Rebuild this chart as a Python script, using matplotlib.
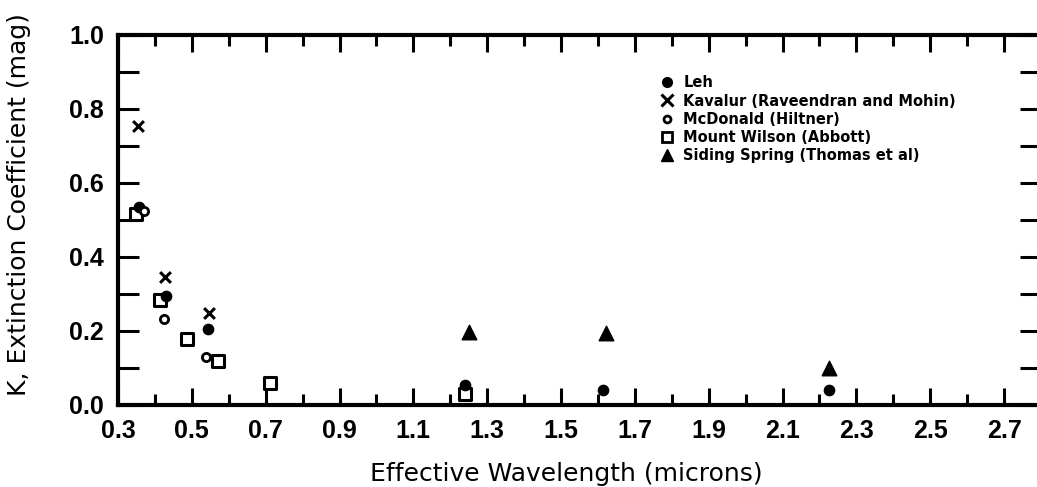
import matplotlib
matplotlib.use("Agg")
import matplotlib.pyplot as plt
from matplotlib.ticker import MultipleLocator, FixedLocator
from matplotlib.lines import Line2D

# ---- data ----
leh_x = [0.357, 0.429, 0.544, 1.239, 1.614, 2.227]
leh_y = [0.536, 0.295, 0.205, 0.055, 0.040, 0.040]

kav_x = [0.354, 0.426, 0.547]
kav_y = [0.754, 0.345, 0.248]

mcd_x = [0.370, 0.425, 0.539]
mcd_y = [0.523, 0.232, 0.130]

mtw_x = [0.350, 0.413, 0.486, 0.572, 0.712, 1.239]
mtw_y = [0.515, 0.285, 0.178, 0.120, 0.060, 0.030]

ss_x = [1.251, 1.621, 2.227]
ss_y = [0.196, 0.194, 0.100]

legend_labels = ["Leh", "Kavalur (Raveendran and Mohin)", "McDonald (Hiltner)",
                 "Mount Wilson (Abbott)", "Siding Spring (Thomas et al)"]
x_tick_values = [0.3, 0.5, 0.7, 0.9, 1.1, 1.3, 1.5, 1.7, 1.9, 2.1, 2.3, 2.5, 2.7]
x_tick_labels = ["0.3", "0.5", "0.7", "0.9", "1.1", "1.3", "1.5", "1.7", "1.9", "2.1", "2.3", "2.5", "2.7"]
y_tick_values = [0.0, 0.2, 0.4, 0.6, 0.8, 1.0]
y_tick_labels = ["0.0", "0.2", "0.4", "0.6", "0.8", "1.0"]

W, H = 1037, 487
fig = plt.figure(figsize=(W / 100, H / 100), dpi=100)
left, right, top, bottom = 118, 1041, 35, 405
ax = fig.add_axes([left / W, (H - bottom) / H, (right - left) / W, (bottom - top) / H])
ax.set_xlim(0.3, 2.8)
ax.set_ylim(0.0, 1.0)

ticksfont = ["Liberation Sans", "DejaVu Sans"]
body = ["DejaVu Sans"]

ax.scatter(leh_x, leh_y, marker="o", s=55, color="black", zorder=3)
ax.scatter(kav_x, kav_y, marker="x", s=60, color="black", linewidths=2.2, zorder=3)
ax.scatter(mcd_x, mcd_y, marker="o", s=35, facecolors="white", edgecolors="black", linewidths=2.0, zorder=4)
ax.scatter(mtw_x, mtw_y, marker="s", s=70, facecolors="white", edgecolors="black", linewidths=2.2, zorder=2)
ax.scatter(ss_x, ss_y, marker="^", s=110, color="black", zorder=3)

for s in ax.spines.values():
    s.set_linewidth(3)
    s.set_color("black")

ax.xaxis.set_major_locator(FixedLocator(x_tick_values))
ax.xaxis.set_minor_locator(MultipleLocator(0.1))
ax.yaxis.set_major_locator(FixedLocator(y_tick_values))
ax.yaxis.set_minor_locator(MultipleLocator(0.1))
ax.set_xticklabels(x_tick_labels, family=ticksfont, fontsize=18, weight="bold")
ax.set_yticklabels(y_tick_labels, family=ticksfont, fontsize=18, weight="bold")

ax.tick_params(which="both", direction="in", top=True, right=True, width=2.2, color="black")
ax.tick_params(which="major", length=12)
ax.tick_params(which="minor", length=8)
ax.tick_params(axis="y", which="both", length=15, pad=10)
ax.tick_params(axis="x", which="both", pad=10)

ax.set_xlabel("Effective Wavelength (microns)", family=body, fontsize=18)
ax.xaxis.set_label_coords((566 - left) / (right - left), -0.155)
ax.set_ylabel("K, Extinction Coefficient (mag)", family=body, fontsize=18)
ax.yaxis.set_label_coords(-(left - 31) / (right - left), (bottom - 205) / (bottom - top))

handles = [
    Line2D([], [], marker="o", ls="", color="black", markersize=7),
    Line2D([], [], marker="x", ls="", color="black", markersize=8, markeredgewidth=2.2),
    Line2D([], [], marker="o", ls="", markerfacecolor="white", markeredgecolor="black", markersize=5, markeredgewidth=2),
    Line2D([], [], marker="s", ls="", markerfacecolor="white", markeredgecolor="black", markersize=7, markeredgewidth=2),
    Line2D([], [], marker="^", ls="", color="black", markersize=9),
]
leg = ax.legend(handles, legend_labels, loc="upper left",
                bbox_to_anchor=((654 - left) / (right - left), (bottom - 68) / (bottom - top)),
                frameon=False, handlelength=0.8, handletextpad=0.7, labelspacing=0.22, borderpad=0,
                prop={"family": body, "weight": "bold", "size": 10.5})

fig.savefig("out.png", dpi=100)
